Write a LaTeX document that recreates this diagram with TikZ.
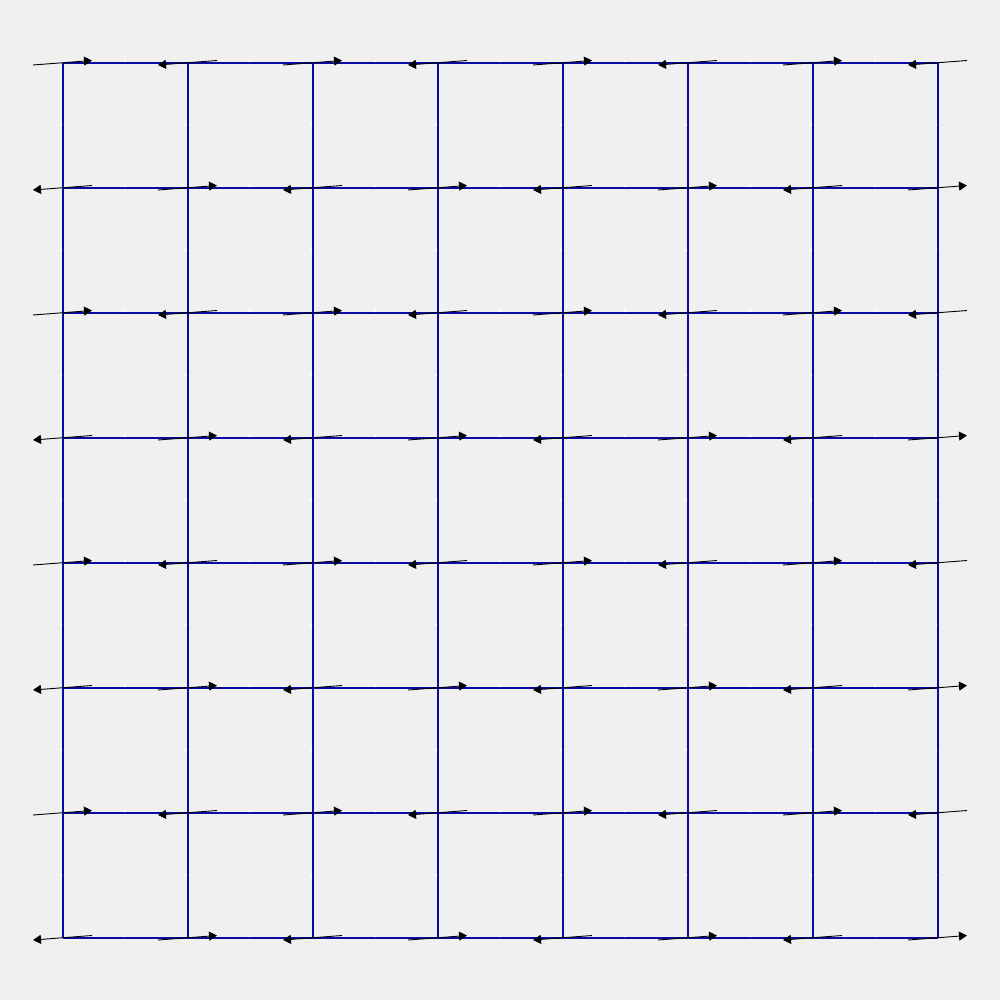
\documentclass[tikz,border=0pt]{standalone}
\usetikzlibrary{arrows.meta,calc}
\definecolor{bg}{HTML}{F0F0F0}
\definecolor{gridblue}{RGB}{10,10,165}
\tikzset{
  gridline/.style={draw=gridblue,line width=1.1pt},
  flowarrow/.style={draw=black,line width=0.9pt,-{Triangle[length=8pt,width=9pt]}},
  middot/.style={fill=white,draw=none}
}
\begin{document}
\begin{tikzpicture}[x=1pt,y=-1pt]
\fill[bg] (0,0) rectangle (1000,1000);
\useasboundingbox (0,0) rectangle (1000,1000);
% vertices
\foreach \i in {0,...,7}{
  \foreach \j in {0,...,7}{
    \coordinate (v-\i-\j) at ({63+125*\i},{63+125*\j});
  }
}
% grid lines
\foreach \i in {0,...,7}{
  \draw[gridline] (v-\i-0) -- (v-\i-7);
  \draw[gridline] (v-0-\i) -- (v-7-\i);
}
% white midpoint marks
\foreach \i in {0,...,6}{
  \foreach \j in {0,...,7}{
    \fill[middot] ($(v-\i-\j)+(62,-2)$) circle (1.3);
    \fill[middot] ($(v-\j-\i)+(-2,62)$) circle (1.3);
  }
}
% arrows
\foreach \i in {0,...,7}{
  \foreach \j in {0,...,7}{
    \pgfmathtruncatemacro{\myparity}{mod(\i+\j,2)}
    \ifnum\myparity=0
      \draw[flowarrow] ($(v-\i-\j)+(-30,2)$) -- ($(v-\i-\j)+(29,-2.5)$);
    \else
      \draw[flowarrow] ($(v-\i-\j)+(29,-2.5)$) -- ($(v-\i-\j)+(-30,2)$);
    \fi
  }
}
\end{tikzpicture}
\end{document}
